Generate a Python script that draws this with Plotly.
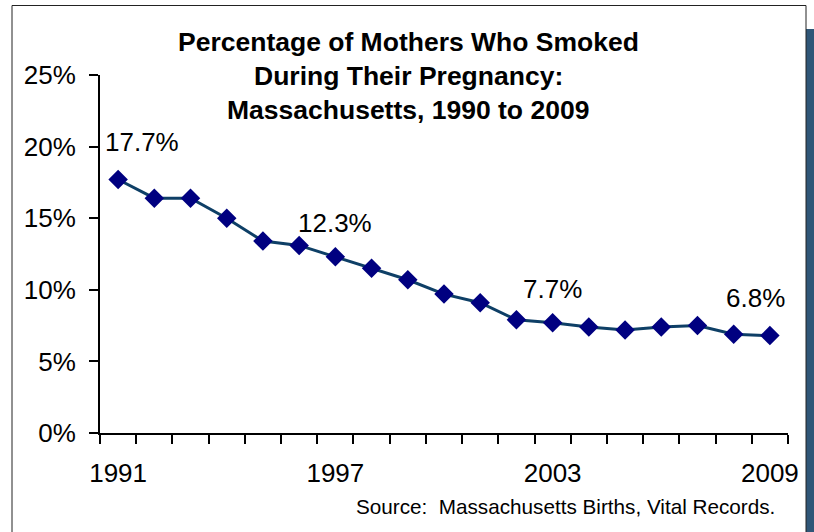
import plotly.graph_objects as go

years = list(range(1991, 2010))
pct = [17.7, 16.4, 16.4, 15.0, 13.4, 13.1, 12.3, 11.5, 10.7, 9.7, 9.1, 7.9, 7.7, 7.4, 7.2, 7.4, 7.5, 6.9, 6.8]
label_years = [1991, 1997, 2003, 2009]
label_shift = [(24, 38), (0, 34), (0, 34), (-14, 38)]
yticks = [0, 5, 10, 15, 20, 25]
title_lines = ["Percentage of Mothers Who Smoked", "During Their Pregnancy:", "Massachusetts, 1990 to 2009"]
source = "Source:  Massachusetts Births, Vital Records."

FONT = "Liberation Sans, Arial, sans-serif"

fig = go.Figure()
fig.add_trace(go.Scatter(
    x=years, y=pct, mode="lines+markers",
    line=dict(color="#0E3F66", width=3),
    marker=dict(symbol="diamond", size=15, color="#000080"),
    showlegend=False, hoverinfo="skip",
))

# dummy trace for label axis
fig.add_trace(go.Scatter(x=[years[0]], y=[None], xaxis="x2", showlegend=False, hoverinfo="skip"))

L, R, T, B = 100, 26, 75, 99
W, H = 814, 532
pw, ph = W - L - R, H - T - B

def px(x):
    return (x - L) / pw

def py(y):
    return (H - B - y) / ph

shapes = [
    dict(type="rect", xref="paper", yref="paper", x0=px(806), x1=px(820), y0=py(560), y1=py(29),
         fillcolor="#2F5677", line=dict(width=0), layer="below"),
    dict(type="rect", xref="paper", yref="paper", x0=px(12), x1=px(806), y0=py(560), y1=py(5.5),
         fillcolor="white", line=dict(color="#222222", width=1), layer="below"),
]

annotations = []
for i, line in enumerate(title_lines):
    annotations.append(dict(text=f"<b>{line}</b>", xref="paper", yref="paper", x=px(408), y=py(42 + 34 * i),
                            xanchor="center", yanchor="middle", showarrow=False,
                            font=dict(family=FONT, size=26.5, color="black")))
for (yr, (dx, dy)) in zip(label_years, label_shift):
    v = pct[years.index(yr)]
    annotations.append(dict(text=f"{v}%", x=yr, y=v, xref="x", yref="y", showarrow=False,
                            xshift=dx, yshift=dy, xanchor="center", yanchor="middle",
                            font=dict(family=FONT, size=26, color="black")))
annotations.append(dict(text=source, xref="paper", yref="paper", x=px(777), y=py(506),
                        xanchor="right", yanchor="middle", showarrow=False,
                        font=dict(family=FONT, size=20.7, color="black")))

fig.update_layout(
    width=W, height=H,
    margin=dict(l=L, r=R, t=T, b=B, pad=0, autoexpand=False),
    paper_bgcolor="white", plot_bgcolor="rgba(0,0,0,0)",
    font=dict(family=FONT, size=26, color="black"),
    shapes=shapes, annotations=annotations,
    xaxis=dict(range=[1990.5, 2009.5], tickmode="array", automargin=False,
               tickvals=[y - 0.5 for y in years] + [years[-1] + 0.5],
               showticklabels=False, ticks="outside", ticklen=9, tickwidth=2, tickcolor="black",
               showline=True, linewidth=2, linecolor="black", showgrid=False, zeroline=False),
    xaxis2=dict(range=[1990.5, 2009.5], overlaying="x", anchor="y", side="bottom", automargin=False,
                tickmode="array", tickvals=label_years, ticktext=[str(y) for y in label_years],
                ticks="", showline=False, showgrid=False, zeroline=False, ticklabelstandoff=22,
                tickfont=dict(family=FONT, size=26, color="black")),
    yaxis=dict(range=[0, 25], tickmode="array", tickvals=yticks, ticktext=[f"{v}%" for v in yticks],
               automargin=False,
               ticks="outside", ticklen=9, tickwidth=2, tickcolor="black",
               showline=True, linewidth=2, linecolor="black", showgrid=False, zeroline=False,
               ticklabelstandoff=8, tickfont=dict(family=FONT, size=26, color="black")),
)

fig.write_html("out.html", config={"displayModeBar": False},
               post_script="document.body.style.margin='0';document.body.style.overflow='hidden';")
